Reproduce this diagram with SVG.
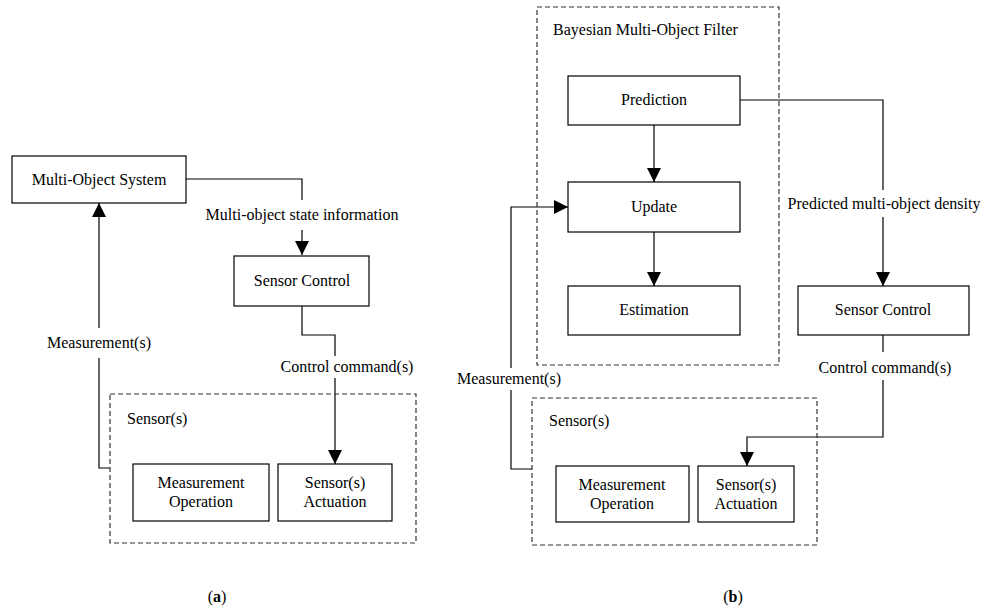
<svg xmlns="http://www.w3.org/2000/svg" width="984" height="615" viewBox="0 0 984 615">
<style>
.box{fill:#fff;stroke:#000;stroke-width:1.2}
.dash{fill:none;stroke:#333;stroke-width:1.2;stroke-dasharray:5,3}
.ln{fill:none;stroke:#000;stroke-width:1.2}
text{font-family:"Liberation Serif","Times New Roman",serif;font-size:16px;fill:#000}
.c{text-anchor:middle}
.cap{font-family:"Liberation Serif",serif;font-size:16px}
</style>
<defs>
<marker id="ah" markerWidth="14" markerHeight="15" refX="14" refY="7" orient="auto" markerUnits="userSpaceOnUse" viewBox="0 0 14 14">
<path d="M0,0 L14,7 L0,14 Z" fill="#000"/>
</marker>
</defs>
<rect width="984" height="615" fill="#fff"/>

<g id="connectors">
<!-- (a) -->
<path class="ln" d="M186,179 H302 V200"/>
<path class="ln" d="M302,230 V255" marker-end="url(#ah)"/>
<path class="ln" d="M302,306 V335 H335 V356"/>
<path class="ln" d="M335,378 V464" marker-end="url(#ah)"/>
<path class="ln" d="M110,468 H99 V358"/>
<path class="ln" d="M99,328 V203" marker-end="url(#ah)"/>
<!-- (b) -->
<path class="ln" d="M654,125 V182" marker-end="url(#ah)"/>
<path class="ln" d="M654,232 V286" marker-end="url(#ah)"/>
<path class="ln" d="M740,100 H883 V190"/>
<path class="ln" d="M883,217 V286" marker-end="url(#ah)"/>
<path class="ln" d="M883,335 V352"/>
<path class="ln" d="M883,380 V437 H747 V466" marker-end="url(#ah)"/>
<path class="ln" d="M532,469 H511 V390"/>
<path class="ln" d="M511,368 V207 H568" marker-end="url(#ah)"/>
</g>

<g id="labels">
<text class="c" x="302" y="220">Multi-object state information</text>
<text class="c" x="347" y="372">Control command(s)</text>
<text class="c" x="99" y="348">Measurement(s)</text>
<text class="c" x="884" y="209">Predicted multi-object density</text>
<text class="c" x="885" y="373">Control command(s)</text>
<text class="c" x="509" y="384">Measurement(s)</text>
</g>

<!-- (a) nodes -->
<g id="mos"><rect class="box" x="12" y="156" width="174" height="47"/><text class="c" x="99" y="185">Multi-Object System</text></g>
<g id="sc-a"><rect class="box" x="234" y="256" width="135" height="50"/><text class="c" x="302" y="286">Sensor Control</text></g>
<g id="sensors-a"><rect class="dash" x="110" y="394" width="306" height="149"/><text x="127" y="424">Sensor(s)</text></g>
<g id="mo-a"><rect class="box" x="133" y="464" width="136" height="57"/><text class="c" x="201" y="488">Measurement</text><text class="c" x="201" y="507">Operation</text></g>
<g id="sa-a"><rect class="box" x="278" y="464" width="114" height="57"/><text class="c" x="335" y="488">Sensor(s)</text><text class="c" x="335" y="507">Actuation</text></g>

<!-- (b) nodes -->
<g id="bmof"><rect class="dash" x="537" y="7" width="242" height="358"/><text x="553" y="35">Bayesian Multi-Object Filter</text></g>
<g id="pred"><rect class="box" x="568" y="76" width="172" height="49"/><text class="c" x="654" y="105">Prediction</text></g>
<g id="upd"><rect class="box" x="568" y="182" width="172" height="50"/><text class="c" x="654" y="212">Update</text></g>
<g id="est"><rect class="box" x="568" y="286" width="172" height="49"/><text class="c" x="654" y="315">Estimation</text></g>
<g id="sc-b"><rect class="box" x="798" y="286" width="171" height="49"/><text class="c" x="883" y="315">Sensor Control</text></g>
<g id="sensors-b"><rect class="dash" x="532" y="398" width="285" height="147"/><text x="549" y="426">Sensor(s)</text></g>
<g id="mo-b"><rect class="box" x="556" y="466" width="133" height="56"/><text class="c" x="622" y="490">Measurement</text><text class="c" x="622" y="509">Operation</text></g>
<g id="sa-b"><rect class="box" x="698" y="466" width="96" height="56"/><text class="c" x="746" y="490">Sensor(s)</text><text class="c" x="746" y="509">Actuation</text></g>

<g id="captions">
<text class="c cap" x="217" y="602">(<tspan font-weight="bold">a</tspan>)</text>
<text class="c cap" x="733" y="602">(<tspan font-weight="bold">b</tspan>)</text>
</g>
</svg>
